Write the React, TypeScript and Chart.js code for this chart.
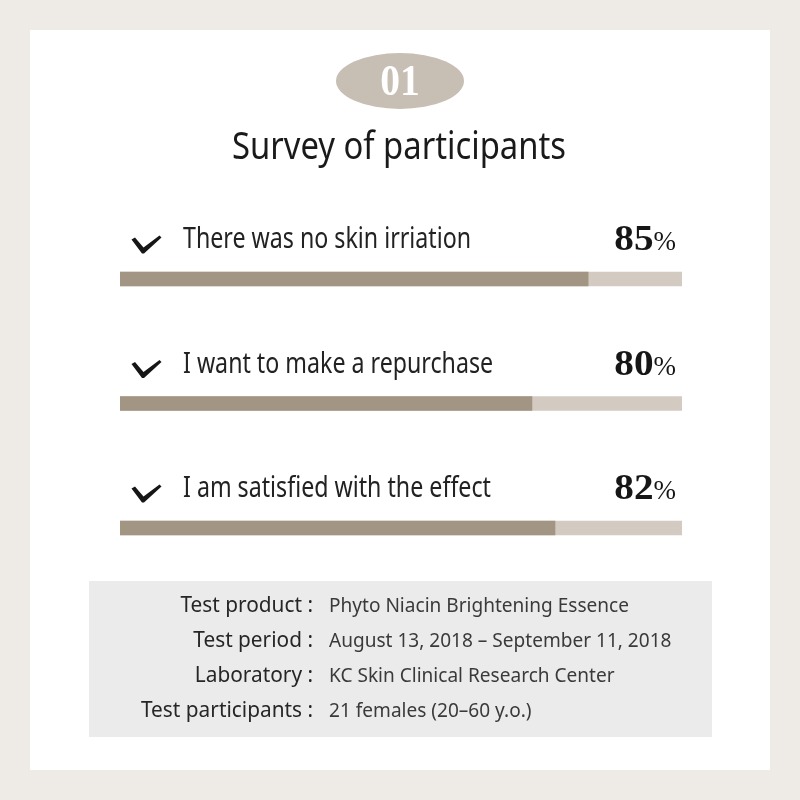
import React, { useEffect, useRef } from 'react';
import { Chart, registerables } from 'chart.js';

Chart.register(...registerables);

const badgeText = '01';
const titleText = 'Survey of participants';
const categories = [
  'There was no skin irriation',
  'I want to make a repurchase',
  'I am satisfied with the effect',
];
const percentLabels = [85, 80, 82];
const barValues = [83.3, 73.3, 77.4];
const trackValues = [100, 100, 100];
const infoLabels = ['Test product', 'Test period', 'Laboratory', 'Test participants'];
const infoValues = [
  'Phyto Niacin Brightening Essence',
  'August 13, 2018 \u2013 September 11, 2018',
  'KC Skin Clinical Research Center',
  '21 females (20\u201360 y.o.)',
];

function drawScaled(
  ctx: CanvasRenderingContext2D,
  text: string,
  x: number,
  y: number,
  font: string,
  color: string,
  align: CanvasTextAlign,
  sx: number
) {
  ctx.save();
  ctx.font = font;
  ctx.fillStyle = color;
  ctx.textAlign = align;
  ctx.textBaseline = 'alphabetic';
  ctx.translate(x, y);
  ctx.scale(sx, 1);
  ctx.fillText(text, 0, 0);
  ctx.restore();
}

function fitScale(ctx: CanvasRenderingContext2D, text: string, font: string, target: number) {
  ctx.save();
  ctx.font = font;
  const w = ctx.measureText(text).width;
  ctx.restore();
  return w > 0 ? target / w : 1;
}

const decorPlugin = {
  id: 'decor',
  beforeDraw(chart: any) {
    const ctx: CanvasRenderingContext2D = chart.ctx;
    ctx.save();
    ctx.fillStyle = '#eeeae6';
    ctx.fillRect(0, 0, 800, 800);
    ctx.fillStyle = '#ffffff';
    ctx.fillRect(30, 30, 740, 740);

    // badge
    ctx.fillStyle = '#c7beb4';
    ctx.beginPath();
    ctx.ellipse(400, 81, 64, 28, 0, 0, Math.PI * 2);
    ctx.fill();
    const badgeFont = 'bold 45px "Liberation Serif", serif';
    drawScaled(ctx, badgeText, 400, 95, badgeFont, '#ffffff', 'center', 0.88);

    // title
    const titleFont = '39px "Noto Sans", sans-serif';
    const ts = fitScale(ctx, titleText, titleFont, 334);
    drawScaled(ctx, titleText, 399, 159, titleFont, '#1a1a1a', 'center', ts);

    // info box
    ctx.fillStyle = '#ebebeb';
    ctx.fillRect(89, 581, 623, 156);
    const valueFont = '20px "Noto Sans", sans-serif';
    const labelFont = '22px "Noto Sans", sans-serif';
    const vs = fitScale(ctx, infoValues[0], valueFont, 300);
    const ls = fitScale(ctx, infoLabels[3] + ' :', labelFont, 172);
    infoLabels.forEach((lab, i) => {
      const y = 611.5 + i * 35.3;
      drawScaled(ctx, lab + ' :', 313, y, labelFont, '#262626', 'right', ls);
      drawScaled(ctx, infoValues[i], 329, y, valueFont, '#3a3a3a', 'left', vs);
    });
    ctx.restore();
  },
  afterDatasetsDraw(chart: any) {
    const ctx: CanvasRenderingContext2D = chart.ctx;
    const yScale = chart.scales.y;
    const labelFont = '29px "Noto Sans", sans-serif';
    const ls = fitScale(ctx, categories[0], labelFont, 288);
    categories.forEach((cat, i) => {
      const yc = yScale.getPixelForValue(i);
      // check mark
      ctx.save();
      ctx.fillStyle = '#161616';
      ctx.beginPath();
      ctx.moveTo(131.5, yc - 39.5);
      ctx.lineTo(135, yc - 41.5);
      ctx.lineTo(143.5, yc - 31.5);
      ctx.lineTo(159.5, yc - 43.5);
      ctx.lineTo(161.5, yc - 41.5);
      ctx.lineTo(144, yc - 25.5);
      ctx.lineTo(142, yc - 25.5);
      ctx.closePath();
      ctx.fill();
      ctx.restore();

      drawScaled(ctx, cat, 183, yc - 31, labelFont, '#222222', 'left', ls);

      // percentage
      const pctFont = '27px "Liberation Serif", serif';
      const numFont = 'bold 35px "Liberation Serif", serif';
      ctx.save();
      ctx.font = pctFont;
      const pw = ctx.measureText('%').width;
      ctx.restore();
      drawScaled(ctx, '%', 676, yc - 29, pctFont, '#161616', 'right', 1);
      drawScaled(ctx, String(percentLabels[i]), 676 - pw, yc - 29, numFont, '#161616', 'right', 1.12);
    });
  },
};

export default function App() {
  const ref = useRef<HTMLCanvasElement | null>(null);
  useEffect(() => {
    if (!ref.current) return;
    const chart = new Chart(ref.current, {
      type: 'bar',
      data: {
        labels: categories,
        datasets: [
          {
            label: 'Result',
            data: barValues,
            backgroundColor: '#a39584',
            barThickness: 14,
            grouped: false,
            order: 1,
          } as any,
          {
            label: 'Track',
            data: trackValues,
            backgroundColor: '#d3cac1',
            barThickness: 14,
            grouped: false,
            order: 2,
          } as any,
        ],
      },
      options: {
        indexAxis: 'y',
        responsive: false,
        animation: false,
        devicePixelRatio: 1,
        layout: { padding: { left: 120, right: 118, top: 216.75, bottom: 209.75 } },
        scales: {
          x: { display: false, min: 0, max: 100 },
          y: { display: false },
        },
        plugins: {
          legend: { display: false },
          tooltip: { enabled: false },
        },
      },
      plugins: [decorPlugin],
    });
    return () => chart.destroy();
  }, []);
  return (
    <div style={{ position: 'absolute', left: 0, top: 0, width: 800, height: 800 }}>
      <canvas ref={ref} width={800} height={800} />
    </div>
  );
}
